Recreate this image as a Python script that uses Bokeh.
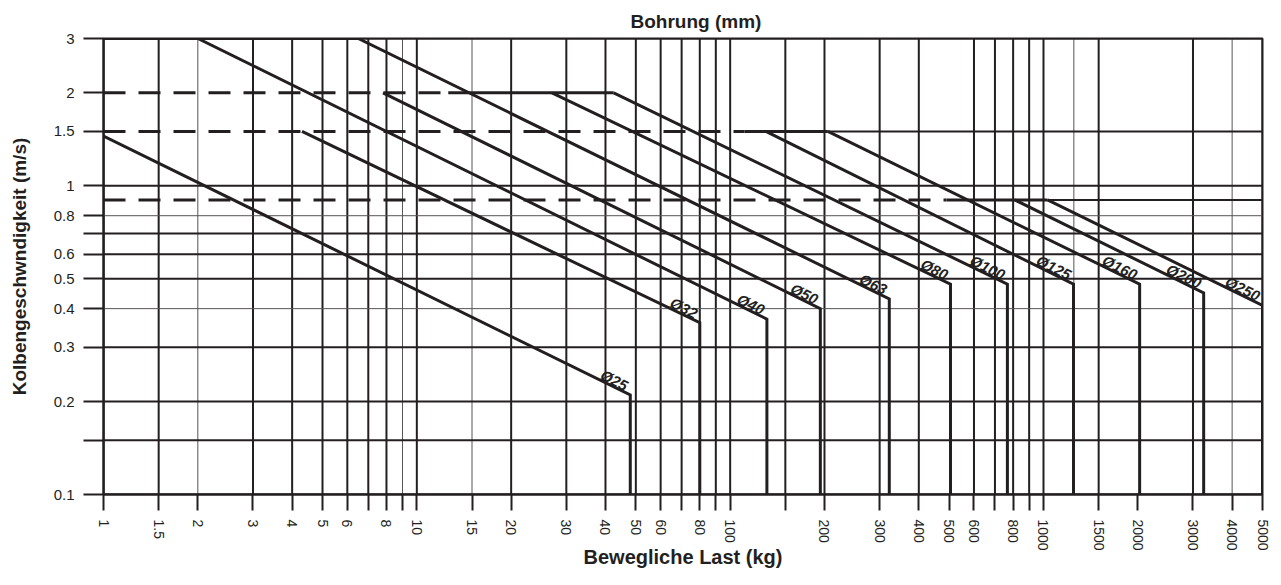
from bokeh.plotting import figure
from bokeh.models import FixedTicker, CustomJSTickFormatter, Range1d
from bokeh.embed import file_html
from bokeh.resources import INLINE
from bokeh.core.properties import value

# ---------------- data ----------------
x_labeled = [1, 1.5, 2, 3, 4, 5, 6, 8, 10, 15, 20, 30, 40, 50, 60, 80, 100,
             200, 300, 400, 500, 600, 800, 1000, 1500, 2000, 3000, 4000, 5000]
x_unlabeled = [7, 9, 70, 90, 150, 700, 900]
y_labeled = [0.1, 0.2, 0.3, 0.4, 0.5, 0.6, 0.8, 1, 1.5, 2, 3]
y_unlabeled = [0.15, 0.7]

x_grid_bold = [1, 1.5, 3, 4, 5, 6, 7, 8, 10, 20, 30, 40, 50, 60, 70, 80, 90, 100,
               150, 200, 300, 400, 600, 700, 800, 900, 1000, 1500, 3000, 5000]
x_grid_thin = [2, 9, 15, 1250, 4000]
y_grid_bold = [0.1, 0.15, 0.2, 0.3, 0.5, 0.6, 0.7, 1, 3]
y_grid_thin = [0.4, 0.8]
y_grid_partial = [1.5, 0.9]
y_grid_partial_from = [205, 1030]

bores = ["Ø25", "Ø32", "Ø40", "Ø50", "Ø63", "Ø80", "Ø100", "Ø125", "Ø160", "Ø200", "Ø250"]
start_load = [1, 4.3, 2, 7.8, 6.5, 27, 42.5, 130, 205, 810, 1030]
start_speed = [1.45, 1.5, 3, 2, 3, 2, 2, 1.5, 1.5, 0.9, 0.9]
end_load = [48, 80, 131, 194, 322, 505, 767, 1247, 2027, 3245, 5000]
end_speed = [0.21, 0.36, 0.37, 0.40, 0.43, 0.48, 0.48, 0.48, 0.48, 0.45, 0.41]

limit_speed = [3, 2, 1.5, 0.9]
limit_dash_to = [1, 12.6, 111, 490]
limit_solid_to = [6.5, 42.5, 205, 1030]

x_min, x_max = 1, 5000
y_min, y_max = 0.1, 3

INK = "#231f20"
FONT = "Liberation Sans"

p = figure(width=1275, height=575, x_axis_type="log", y_axis_type="log",
           x_range=Range1d(x_min, x_max), y_range=Range1d(y_min, y_max),
           output_backend="svg", toolbar_location=None,
           min_border_left=103, min_border_right=13, min_border_top=38, min_border_bottom=81)
p.grid.visible = False
p.outline_line_color = INK
p.outline_line_width = 2
p.background_fill_color = "white"
p.border_fill_color = "white"

# title
p.title.text = "Bohrung (mm)"
p.title.align = "left"
p.title.offset = 527
p.title.text_font = FONT
p.title.text_font_size = "19px"
p.title.text_font_style = "bold"
p.title.text_color = INK
p.title.standoff = 13

# grid lines
p.segment(x0=x_grid_bold, y0=[y_min] * len(x_grid_bold), x1=x_grid_bold, y1=[y_max] * len(x_grid_bold),
          line_color=INK, line_width=2)
p.segment(x0=x_grid_thin, y0=[y_min] * len(x_grid_thin), x1=x_grid_thin, y1=[y_max] * len(x_grid_thin),
          line_color="#555555", line_width=1)
p.segment(x0=[x_min] * len(y_grid_bold), y0=y_grid_bold, x1=[x_max] * len(y_grid_bold), y1=y_grid_bold,
          line_color=INK, line_width=2)
p.segment(x0=[x_min] * len(y_grid_thin), y0=y_grid_thin, x1=[x_max] * len(y_grid_thin), y1=y_grid_thin,
          line_color="#555555", line_width=1)
p.segment(x0=y_grid_partial_from, y0=y_grid_partial, x1=[x_max] * len(y_grid_partial), y1=y_grid_partial,
          line_color=INK, line_width=2)

# speed limit lines
p.segment(x0=[x_min] * len(limit_speed), y0=limit_speed, x1=limit_dash_to, y1=limit_speed,
          line_color=INK, line_width=3, line_dash="22 13")
p.segment(x0=limit_dash_to, y0=limit_speed, x1=limit_solid_to, y1=limit_speed,
          line_color=INK, line_width=3)

# bore curves
xs = [[s, e, e] for s, e in zip(start_load, end_load)]
ys = [[sv, ev, y_min] for sv, ev in zip(start_speed, end_speed)]
p.multi_line(xs=xs, ys=ys, line_color=INK, line_width=3, line_join="miter")

p.text(x=end_load, y=end_speed, text=bores, angle=-0.457, text_align="right",
       text_baseline="bottom", x_offset=-7, y_offset=-1,
       text_font=value(FONT), text_font_style="bold italic", text_font_size="15px",
       text_color=INK)

# axes
xa = p.xaxis[0]
xa.ticker = FixedTicker(ticks=x_labeled, minor_ticks=x_unlabeled)
xa.formatter = CustomJSTickFormatter(code="return tick.toString();")
xa.major_label_orientation = "vertical"
xa.major_tick_out = 16
xa.major_tick_in = 0
xa.minor_tick_out = 16
xa.minor_tick_in = 0
xa.major_tick_line_width = 2
xa.minor_tick_line_width = 2
xa.major_tick_line_color = INK
xa.minor_tick_line_color = INK
xa.axis_line_width = 2
xa.axis_line_color = INK
xa.major_label_standoff = 9
xa.major_label_text_font = FONT
xa.major_label_text_font_size = "14px"
xa.major_label_text_color = INK
xa.axis_label = "Bewegliche Last (kg)"
xa.axis_label_text_font = FONT
xa.axis_label_text_font_size = "20px"
xa.axis_label_text_font_style = "bold"
xa.axis_label_text_color = INK
xa.axis_label_standoff = -8

ya = p.yaxis[0]
ya.ticker = FixedTicker(ticks=y_labeled, minor_ticks=y_unlabeled)
ya.formatter = CustomJSTickFormatter(code="return tick.toString();")
ya.major_tick_out = 20
ya.major_tick_in = 0
ya.minor_tick_out = 20
ya.minor_tick_in = 0
ya.major_tick_line_width = 2
ya.minor_tick_line_width = 2
ya.major_tick_line_color = INK
ya.minor_tick_line_color = INK
ya.axis_line_width = 2
ya.axis_line_color = INK
ya.major_label_standoff = 9
ya.major_label_text_font = FONT
ya.major_label_text_font_size = "15px"
ya.major_label_text_color = INK
ya.axis_label = "Kolbengeschwndigkeit (m/s)"
ya.axis_label_text_font = FONT
ya.axis_label_text_font_size = "19px"
ya.axis_label_text_font_style = "bold"
ya.axis_label_text_color = INK
ya.axis_label_standoff = 21

open("out.html", "w").write(file_html(p, INLINE))
